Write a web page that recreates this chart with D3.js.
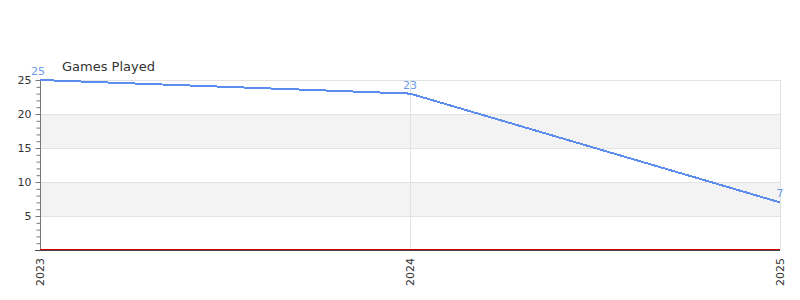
<!DOCTYPE html>
<html lang="en">
<head>
	<meta charset="UTF-8">
	<title>Games Played</title>
	<style>
		body { margin: 0; background: #fff; font-family: "DejaVu Sans", sans-serif; }
		text { fill: #333; }
	</style>
</head>
<body>
<svg></svg>
<script src="https://cdnjs.cloudflare.com/ajax/libs/d3/7.8.5/d3.min.js"></script>
<script>
	const years = ['2023', '2024', '2025'];
	const gamesPlayed = [25, 23, 7];
	const baseline = [0, 0, 0];
	const yTicks = [5, 10, 15, 20, 25];
	const bands = [[5, 10], [15, 20]];

	const width = 800, height = 300;
	const plotLeft = 40, plotRight = 780, plotTop = 80, plotBottom = 250;

	const svg = d3.select('svg')
		.attr('width', width)
		.attr('height', height);

	const x = d3.scalePoint().domain(years).range([plotLeft, plotRight]);
	const y = d3.scaleLinear().domain([0, 25]).range([plotBottom, plotTop]);

	// shaded bands
	svg.selectAll('rect.band')
		.data(bands)
		.enter().append('rect')
		.attr('x', plotLeft)
		.attr('width', plotRight - plotLeft)
		.attr('y', d => y(d[1]))
		.attr('height', d => y(d[0]) - y(d[1]))
		.attr('fill', '#f3f3f3');

	// horizontal grid
	svg.selectAll('line.hgrid')
		.data(yTicks)
		.enter().append('line')
		.attr('x1', plotLeft).attr('x2', plotRight)
		.attr('y1', d => y(d) + 0.5).attr('y2', d => y(d) + 0.5)
		.attr('stroke', '#e2e2e2');

	// vertical grid
	svg.selectAll('line.vgrid')
		.data(years.slice(1))
		.enter().append('line')
		.attr('x1', d => x(d) + 0.5).attr('x2', d => x(d) + 0.5)
		.attr('y1', plotTop).attr('y2', plotBottom)
		.attr('stroke', '#e2e2e2');

	// y axis with minor ticks
	const yAxis = svg.append('g').attr('transform', `translate(${plotLeft + 0.5},0)`);
	yAxis.append('line').attr('y1', plotTop).attr('y2', plotBottom).attr('stroke', '#777');
	yAxis.selectAll('line.minor')
		.data(d3.range(1, 26))
		.enter().append('line')
		.attr('x1', d => d % 5 ? -4 : -5).attr('x2', 0)
		.attr('y1', d => y(d) + 0.5).attr('y2', d => y(d) + 0.5)
		.attr('stroke', '#777');
	yAxis.selectAll('text')
		.data(yTicks)
		.enter().append('text')
		.attr('x', -9)
		.attr('y', d => y(d) + 4)
		.attr('text-anchor', 'end')
		.style('font-size', '11px')
		.text(d => d);

	// zero series
	svg.append('path')
		.datum(baseline)
		.attr('fill', 'none')
		.attr('stroke', '#d40000')
		.attr('stroke-width', 1)
		.attr('shape-rendering', 'crispEdges')
		.attr('d', d3.line().x((d, i) => x(years[i])).y(d => y(d) - 0.5));

	// x axis line
	svg.append('line')
		.attr('x1', plotLeft - 5).attr('x2', plotRight)
		.attr('y1', plotBottom + 0.5).attr('y2', plotBottom + 0.5)
		.attr('stroke', '#444');

	// x labels
	svg.selectAll('text.xl')
		.data(years)
		.enter().append('text')
		.attr('transform', d => `translate(${x(d) + 4},${plotBottom + 8}) rotate(-90)`)
		.attr('text-anchor', 'end')
		.style('font-size', '11px')
		.text(d => d);

	// main series
	svg.append('path')
		.datum(gamesPlayed)
		.attr('fill', 'none')
		.attr('stroke', '#5b8def')
		.attr('stroke-width', 2)
		.attr('shape-rendering', 'crispEdges')
		.attr('d', d3.line().x((d, i) => x(years[i])).y(d => y(d)));

	svg.selectAll('text.val')
		.data(gamesPlayed)
		.enter().append('text')
		.attr('x', (d, i) => x(years[i]) - (i === 0 ? 2 : 0))
		.attr('y', d => y(d) - 5)
		.attr('text-anchor', 'middle')
		.style('font-size', '11px')
		.style('fill', '#6b9be8')
		.text(d => d);

	svg.append('text')
		.attr('x', 62)
		.attr('y', 71)
		.style('font-size', '13px')
		.text('Games Played');
</script>
</body>
</html>
